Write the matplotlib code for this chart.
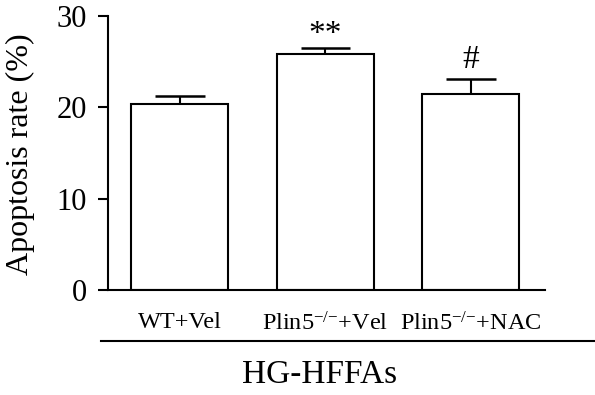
import matplotlib
matplotlib.use('Agg')
import matplotlib.pyplot as plt

groups = ['WT+Vel', 'Plin5$^{{-}/{-}}$+Vel', 'Plin5$^{{-}/{-}}$+NAC']
rates = [20.35, 25.85, 21.45]
errors = [0.85, 0.7, 1.6]
marks = ['', '**', '#']

plt.rcParams['font.family'] = ['Liberation Serif', 'DejaVu Serif']
plt.rcParams['mathtext.fontset'] = 'custom'
plt.rcParams['mathtext.rm'] = 'Liberation Serif'
plt.rcParams['mathtext.it'] = 'Liberation Serif:italic'

fig = plt.figure(figsize=(5.95, 3.95), dpi=100)
ax = fig.add_axes([108/595, 1-290/395, 437/595, 274/395])

x = range(len(groups))
ax.bar(x, rates, width=0.667, color='white', edgecolor='black', linewidth=1.5,
       yerr=[[0]*3, errors], capsize=0, error_kw=dict(elinewidth=1.5, ecolor='black'))
# caps are about half the bar width
mark_gap = {'**': 0.5, '#': 1.3}
for i, (r, e) in enumerate(zip(rates, errors)):
    ax.plot([i-0.17, i+0.17], [r+e, r+e], color='black', lw=1.8, solid_capstyle='butt')
    if marks[i]:
        ax.text(i, r+e+mark_gap[marks[i]], marks[i], ha='center', va='baseline', fontsize=24)

ax.set_xlim(-0.495, 2.51)
ax.set_ylim(0, 30)
ax.set_yticks([0, 10, 20, 30])
ax.set_xticks(list(x))
ax.set_xticklabels(groups, fontsize=17.5)
ax.tick_params(axis='x', length=0, pad=16)
ax.tick_params(axis='y', length=7, width=1.5, labelsize=22, pad=8)
for s in ['top', 'right']:
    ax.spines[s].set_visible(False)
for s in ['left', 'bottom']:
    ax.spines[s].set_linewidth(1.5)

fig.text(20/595, 1-154/395, 'Apoptosis rate (%)', rotation=90,
         ha='center', va='center', fontsize=23)

ax.plot([-0.016, 1.15], [-0.186, -0.186], transform=ax.transAxes,
        color='black', lw=1.5, clip_on=False)
fig.text(320/595, 1-375/395, 'HG-HFFAs', ha='center', va='center', fontsize=24)

fig.savefig('out.png', dpi=100)
